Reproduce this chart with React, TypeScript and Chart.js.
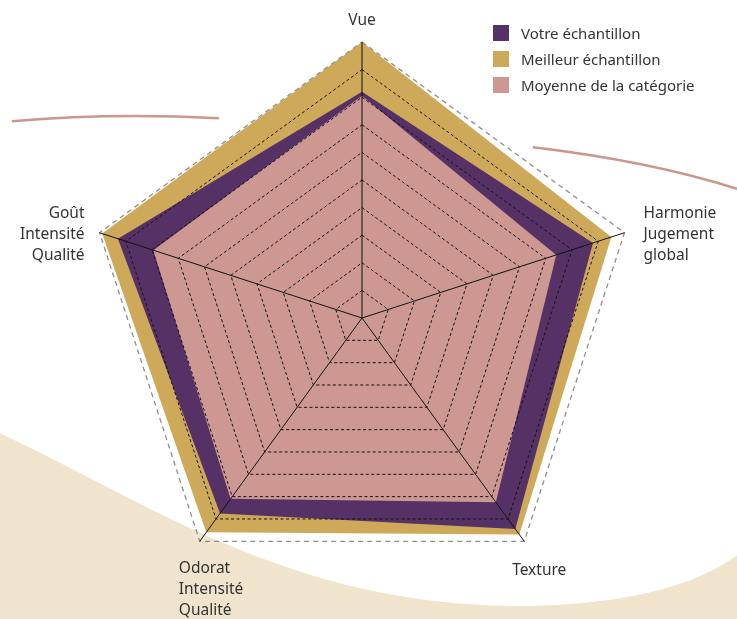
import React, { useEffect, useRef } from 'react';
import { Chart, registerables } from 'chart.js';

Chart.register(...registerables);

// ---- data ----
const axisLabels: (string | string[])[] = [
  'Vue',
  ['Harmonie', 'Jugement', 'global'],
  'Texture',
  ['Odorat', 'Intensité', 'Qualité'],
  ['Goût', 'Intensité', 'Qualité'],
];
const seriesNames = ['Votre échantillon', 'Meilleur échantillon', 'Moyenne de la catégorie'];
const votreValues = [8.2, 8.8, 9.45, 8.75, 9.3];
const meilleurValues = [10, 9.5, 9.7, 9.6, 9.9];
const moyenneValues = [8.05, 7.4, 8.25, 8.1, 7.95];
const scaleMin = 0;
const scaleMax = 10;
const scaleStep = 1;

// ---- styles ----
const seriesColors = ['#553166', '#CFA95A', '#CC9891'];
const FONT = '"Noto Sans", Roboto, sans-serif';

const labelPlacement = [
  { align: 'center', dx: 0, dy: -17 },
  { align: 'left', dx: 19, dy: -15 },
  { align: 'center', dx: 15, dy: 34 },
  { align: 'left', dx: -21, dy: 32 },
  { align: 'right', dx: -15, dy: -15 },
];

const decorPlugin = {
  id: 'decor',
  beforeDraw(chart: any) {
    const { ctx, width: w, height: h } = chart;
    ctx.save();
    // beige wave
    ctx.fillStyle = '#F0E4CD';
    ctx.beginPath();
    ctx.moveTo(0, h * 0.70);
    ctx.bezierCurveTo(w * 0.2, h * 0.81, w * 0.4, h * 0.985, w * 0.72, h * 0.979);
    ctx.bezierCurveTo(w * 0.87, h * 0.974, w * 0.95, h * 0.94, w, h * 0.897);
    ctx.lineTo(w, h);
    ctx.lineTo(0, h);
    ctx.closePath();
    ctx.fill();
    // pink curves
    ctx.strokeStyle = '#CC968C';
    ctx.lineWidth = 2.5;
    ctx.beginPath();
    ctx.moveTo(w * 0.016, h * 0.196);
    ctx.quadraticCurveTo(w * 0.15, h * 0.182, w * 0.297, h * 0.191);
    ctx.stroke();
    ctx.beginPath();
    ctx.moveTo(w * 0.723, h * 0.238);
    ctx.quadraticCurveTo(w * 0.88, h * 0.26, w, h * 0.305);
    ctx.stroke();
    ctx.restore();
  },
};

const pointLabelPlugin = {
  id: 'customPointLabels',
  afterDraw(chart: any) {
    const scale = chart.scales.r;
    const { ctx } = chart;
    const labels = chart.data.labels as (string | string[])[];
    ctx.save();
    ctx.font = `15.5px ${FONT}`;
    ctx.fillStyle = '#333333';
    ctx.textBaseline = 'alphabetic';
    const outer = scale.getDistanceFromCenterForValue(scaleMax);
    labels.forEach((lab, i) => {
      const p = scale.getPointPosition(i, outer);
      const place = labelPlacement[i];
      const lines = Array.isArray(lab) ? lab : [lab];
      ctx.textAlign = place.align;
      lines.forEach((line, k) => {
        ctx.fillText(line, p.x + place.dx, p.y + place.dy + k * 21);
      });
    });
    ctx.restore();
  },
};

export default function App() {
  const canvasRef = useRef<HTMLCanvasElement>(null);

  useEffect(() => {
    const chart = new Chart(canvasRef.current as HTMLCanvasElement, {
      type: 'radar',
      data: {
        labels: axisLabels as any,
        datasets: [
          {
            label: seriesNames[0],
            data: votreValues,
            backgroundColor: seriesColors[0],
            borderWidth: 0,
            pointRadius: 0,
            fill: true,
            order: 2,
          },
          {
            label: seriesNames[1],
            data: meilleurValues,
            backgroundColor: seriesColors[1],
            borderWidth: 0,
            pointRadius: 0,
            fill: true,
            order: 3,
          },
          {
            label: seriesNames[2],
            data: moyenneValues,
            backgroundColor: seriesColors[2],
            borderWidth: 0,
            pointRadius: 0,
            fill: true,
            order: 1,
          },
        ],
      },
      options: {
        animation: false,
        responsive: true,
        maintainAspectRatio: false,
        layout: { padding: { left: 86, right: 98, top: 42, bottom: 24 } },
        plugins: {
          legend: { display: false },
          tooltip: { enabled: false },
        },
        elements: { line: { tension: 0 } },
        scales: {
          r: {
            min: scaleMin,
            max: scaleMax,
            beginAtZero: true,
            ticks: { display: false, stepSize: scaleStep, z: 1 },
            pointLabels: { display: false },
            angleLines: { color: '#111111', lineWidth: 1 },
            grid: {
              z: 1,
              color: (ctx: any) => (ctx.index === 10 ? '#8f8f8f' : '#111111'),
              lineWidth: (ctx: any) => (ctx.index === 10 ? 1.3 : 1),
            },
            border: {
              z: 1,
              dash: (ctx: any) => (ctx.index === 10 ? [5, 4] : [3, 2.5]),
            },
          } as any,
        },
      },
      plugins: [decorPlugin, pointLabelPlugin],
    });
    return () => chart.destroy();
  }, []);

  return (
    <div style={{ position: 'absolute', left: 0, top: 0, width: 737, height: 619, background: '#ffffff' }}>
      <canvas ref={canvasRef} />
      <div style={{ position: 'absolute', left: 493, top: 25, fontFamily: FONT, fontSize: 15, color: '#333333' }}>
        {seriesNames.map((name, i) => (
          <div key={name} style={{ display: 'flex', alignItems: 'center', height: 16, marginBottom: 10 }}>
            <span style={{ display: 'inline-block', width: 16, height: 16, background: seriesColors[i], marginRight: 12 }} />
            <span style={{ lineHeight: '16px' }}>{name}</span>
          </div>
        ))}
      </div>
    </div>
  );
}
